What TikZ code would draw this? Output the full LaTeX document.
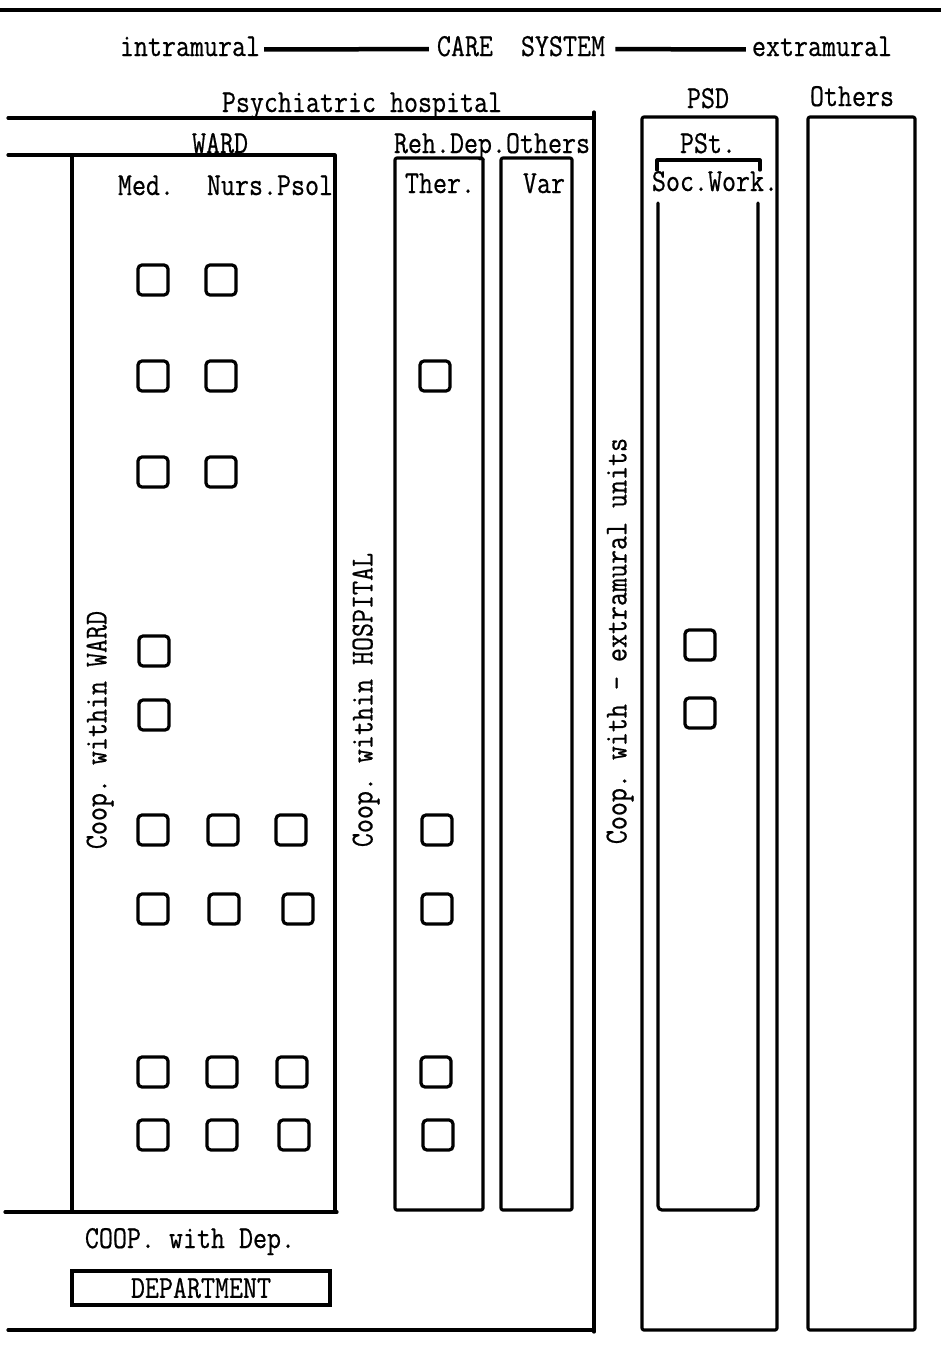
\documentclass[tikz,border=0pt]{standalone}
\usepackage{fontspec}
\setmonofont{Latin Modern Mono}[FakeStretch=0.85,FakeBold=0.6]
\begin{document}
\begin{tikzpicture}[x=1pt,y=-1pt,
  frame/.style={line width=3.2pt,line cap=round,line join=round},
  lbl/.style={font=\ttfamily\fontsize{32}{36}\selectfont,inner sep=0pt,anchor=base},
  vlbl/.style={font=\ttfamily\fontsize{32}{36}\selectfont,inner sep=0pt,rotate=90},
  sq/.style={draw,line width=3.2pt,minimum size=30pt,inner sep=0pt,rounded corners=4pt},
  link/.style={line width=4.5pt}]
\useasboundingbox (0,0) rectangle (941,1358);
% top rule
\draw[frame] (0,10) -- (941,10);
% header
\node[lbl] (intra) at (190,56) {intramural};
\node[lbl] (care) at (521,56) {CARE\ \ SYSTEM};
\node[lbl] (extra) at (822,56) {extramural};
\draw[link] ([xshift=4pt,yshift=-3pt]intra.east) -- ([xshift=-8pt,yshift=-3pt]care.west);
\draw[link] ([xshift=10pt,yshift=-3pt]care.east) -- ([xshift=-6pt,yshift=-3pt]extra.west);
% hospital
\node[lbl] (hosp) at (362,112) {Psychiatric hospital};
\draw[frame] (8,118) -- (592,118);
\draw[frame] (594,112) -- (594,1332);
\draw[frame] (8,1330) -- (594,1330);
% ward
\node[lbl] (ward) at (220,153) {WARD};
\draw[frame] (8,155) -- (335,155) -- (335,1212);
\draw[frame] (72,155) -- (72,1212);
\draw[frame] (5,1212) -- (337,1212);
\node[lbl] (med) at (146,195) {Med.};
\node[lbl] (nurs) at (270,195) {Nurs.Psol};
% rehab dep
\node[lbl] (reh) at (492,153) {Reh.Dep.Others};
\draw[frame,rounded corners=2pt] (395,158) rectangle (483,1210);
\draw[frame,rounded corners=2pt] (501,158) rectangle (572,1210);
\node[lbl] (ther) at (440,193) {Ther.};
\node[lbl] (var) at (544,193) {Var};
% PSD
\node[lbl] (psd) at (708,108) {PSD};
\draw[frame,rounded corners=2pt] (642,117) rectangle (777,1330);
\node[lbl] (pst) at (708,153) {PSt.};
\draw[frame] (657,170) -- (657,160) -- (760,160) -- (760,170);
\node[lbl] (soc) at (715,191) {Soc.Work.};
\draw[frame,rounded corners=4pt] (658,203) -- (658,1210) -- (758,1210) -- (758,203);
% others
\node[lbl] (oth) at (852,106) {Others};
\draw[frame,rounded corners=2pt] (808,117) rectangle (915,1330);
% vertical labels
\node[vlbl] (cw) at (100,730) {Coop. within WARD};
\node[vlbl] (ch) at (366,700) {Coop. within HOSPITAL};
\node[vlbl] (ce) at (620,641) {Coop. with - extramural units};
% department
\node[lbl] (coop) at (190,1248) {COOP. with Dep.};
\node[draw,line width=3.2pt,minimum width=258pt,minimum height=34pt,inner sep=0pt,
  font=\ttfamily\fontsize{32}{36}\selectfont] (dept) at (201,1288) {DEPARTMENT};
% squares
\node[sq] (a1) at (153,280) {};
\node[sq] (a2) at (221,280) {};
\node[sq] (b1) at (153,376) {};
\node[sq] (b2) at (221,376) {};
\node[sq] (b4) at (435,376) {};
\node[sq] (c1) at (153,472) {};
\node[sq] (c2) at (221,472) {};
\node[sq] (d1) at (154,651) {};
\node[sq] (e1) at (154,715) {};
\node[sq] (f1) at (153,830) {};
\node[sq] (f2) at (223,830) {};
\node[sq] (f3) at (291,830) {};
\node[sq] (f4) at (437,830) {};
\node[sq] (g1) at (153,909) {};
\node[sq] (g2) at (224,909) {};
\node[sq] (g3) at (298,909) {};
\node[sq] (g4) at (437,909) {};
\node[sq] (h1) at (153,1072) {};
\node[sq] (h2) at (222,1072) {};
\node[sq] (h3) at (292,1072) {};
\node[sq] (h4) at (436,1072) {};
\node[sq] (i1) at (153,1135) {};
\node[sq] (i2) at (222,1135) {};
\node[sq] (i3) at (294,1135) {};
\node[sq] (i4) at (438,1135) {};
\node[sq] (p1) at (700,645) {};
\node[sq] (p2) at (700,713) {};
\end{tikzpicture}
\end{document}
